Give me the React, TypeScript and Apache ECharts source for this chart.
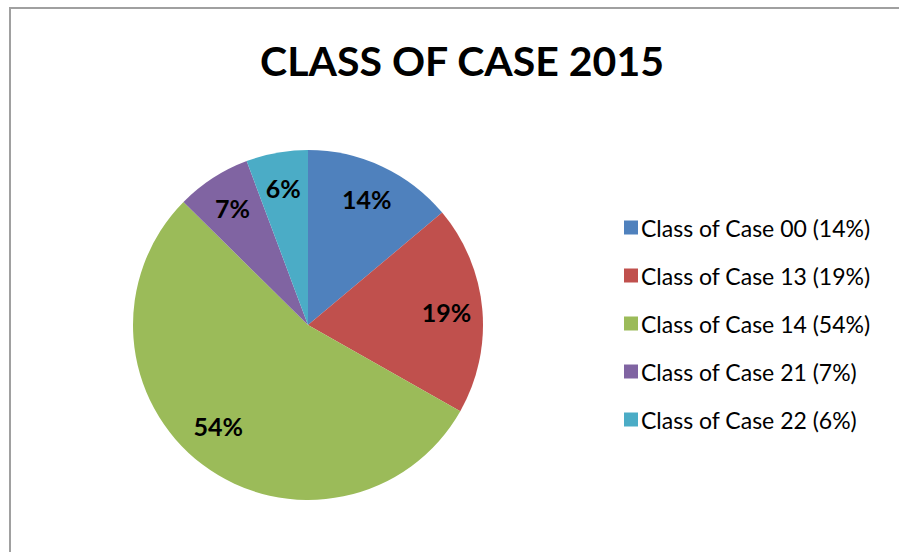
import React, { useEffect, useRef } from "react";
import * as echarts from "echarts";

const categories = [
  "Class of Case 00",
  "Class of Case 13",
  "Class of Case 14",
  "Class of Case 21",
  "Class of Case 22",
];
// shares (labels show them rounded)
const values = [13.9, 19.3, 54.2, 6.9, 5.7];
const colors = ["#4F81BD", "#C0504D", "#9BBB59", "#8064A2", "#4BACC6"];
const titleText = "CLASS OF CASE 2015";

export default function App() {
  const ref = useRef<HTMLDivElement>(null);
  useEffect(() => {
    if (!ref.current) return;
    const chart = echarts.init(ref.current, undefined, { renderer: "svg" });
    const data = categories.map((name, i) => ({ name, value: values[i] }));
    const labelData = categories.map((name, i) => ({
      name,
      value: values[i],
      label: i === 2 ? { offset: [-6, -10] } : {},
    }));
    const font = "Lato, 'Open Sans', sans-serif";
    chart.setOption({
      animation: false,
      backgroundColor: "#ffffff",
      color: colors,
      title: {
        text: titleText,
        left: 457,
        top: 35,
        textAlign: "center",
        textStyle: {
          fontFamily: font,
          fontWeight: "bold",
          fontSize: 41,
          color: "#000000",
        },
      },
      legend: {
        orient: "vertical",
        left: 619,
        top: 211,
        itemWidth: 14,
        itemHeight: 14,
        itemGap: 25,
        icon: "rect",
        data: categories,
        formatter: (name: string) => {
          const i = categories.indexOf(name);
          return `${name} (${Math.round(values[i])}%)`;
        },
        textStyle: {
          fontFamily: font,
          fontSize: 23,
          lineHeight: 23,
          color: "#000000",
          padding: [0, 0, 0, -2],
        },
      },
      graphic: [
        {
          type: "rect",
          shape: { x: 10, y: 8, width: 1000, height: 1000 },
          style: { fill: "none", stroke: "#a0a0a0", lineWidth: 2 },
          z: 100,
        },
      ],
      series: [
        {
          type: "pie",
          center: [308, 325],
          radius: [0, 175],
          startAngle: 90,
          clockwise: true,
          data,
          label: { show: false },
          labelLine: { show: false },
          itemStyle: { borderWidth: 0 },
          silent: true,
        },
        {
          type: "pie",
          center: [308, 325],
          radius: [0, 272],
          startAngle: 90,
          clockwise: true,
          data: labelData,
          legendHoverLink: false,
          itemStyle: { color: "rgba(0,0,0,0)", borderWidth: 0 },
          label: {
            show: true,
            position: "inside",
            formatter: (p: any) => `${Math.round(p.value)}%`,
            fontFamily: font,
            fontWeight: "bold",
            fontSize: 25,
            color: "#000000",
          },
          labelLine: { show: false },
          silent: true,
          z: 3,
        },
      ],
    });
    return () => chart.dispose();
  }, []);
  return (
    <div
      ref={ref}
      style={{ position: "absolute", left: 0, top: 0, width: 899, height: 552 }}
    />
  );
}
